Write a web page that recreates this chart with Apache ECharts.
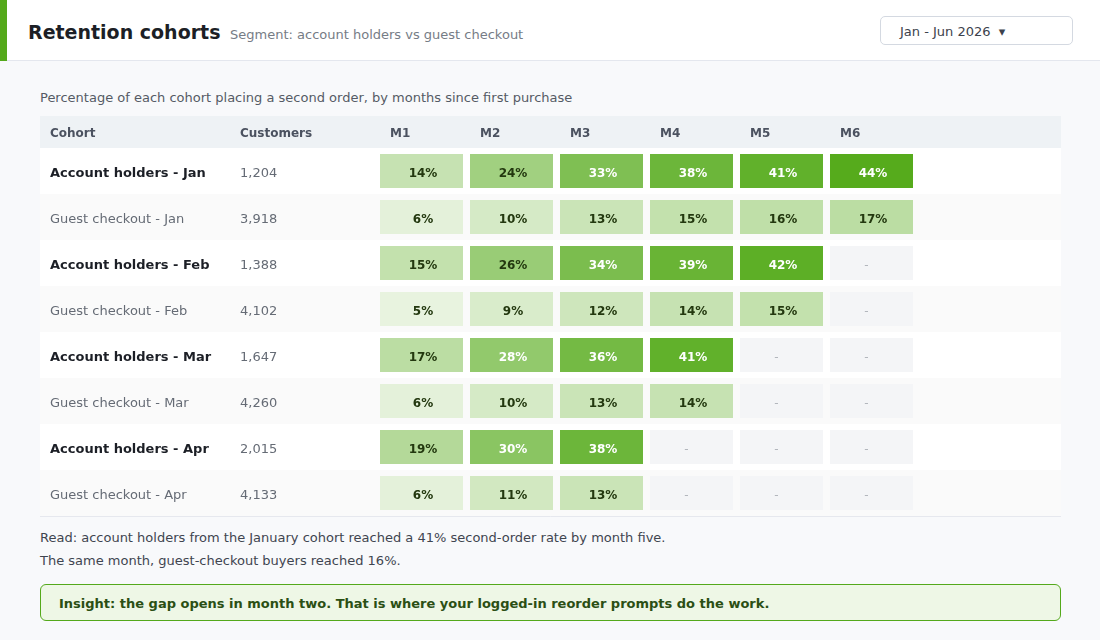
<!DOCTYPE html>
<html>
<head>
<meta charset="utf-8">
<script src="https://cdn.jsdelivr.net/npm/echarts@6/dist/echarts.min.js"></script>
<style>
  body { margin: 0; width: 1100px; height: 640px; background: #f8f9fb; font-family: 'DejaVu Sans', sans-serif; position: relative; overflow: hidden; }
  .top { position: absolute; left: 0; top: 0; width: 1100px; height: 60px; background: #fff; border-bottom: 1px solid #e4e7ee; }
  .accent { position: absolute; left: 0; top: 0; width: 7px; height: 61px; background: #54a91b; }
  .title { position: absolute; left: 28px; top: 21px; font-size: 19px; font-weight: bold; color: #1c1f26; }
  .sub { position: absolute; left: 230px; top: 27px; font-size: 13px; color: #767c86; }
  .picker { position: absolute; left: 880px; top: 16px; width: 172px; height: 27px; border: 1px solid #d4d9e1; border-radius: 5px; background: #fff; font-size: 13px; color: #3c424c; line-height: 30px; padding-left: 19px; overflow: hidden; }
  .caption { position: absolute; left: 40px; top: 90px; font-size: 13px; color: #555b65; }
  #chart { position: absolute; left: 40px; top: 116px; width: 1021px; height: 401px; }
  .note { position: absolute; left: 40px; font-size: 13px; color: #3f4550; }
  .insight { position: absolute; left: 40px; top: 584px; width: 1019px; height: 35px; border: 1px solid #54a91b; border-radius: 6px; background: #eef7e6; font-size: 13px; font-weight: bold; color: #2b4f14; line-height: 37px; overflow: hidden; }
  .insight span { padding-left: 18px; }
</style>
</head>
<body>
<div class="top"></div>
<div class="accent"></div>
<div class="title">Retention cohorts</div>
<div class="sub">Segment: account holders vs guest checkout</div>
<div class="picker">Jan - Jun 2026&nbsp;&nbsp;▾</div>
<div class="caption">Percentage of each cohort placing a second order, by months since first purchase</div>
<div id="chart"></div>
<div class="note" style="top:530px">Read: account holders from the January cohort reached a 41% second-order rate by month five.</div>
<div class="note" style="top:553px">The same month, guest-checkout buyers reached 16%.</div>
<div class="insight"><span>Insight: the gap opens in month two. That is where your logged-in reorder prompts do the work.</span></div>

<script>
// cohort rows (table order)
const cohorts = [
  'Account holders - Jan', 'Guest checkout - Jan',
  'Account holders - Feb', 'Guest checkout - Feb',
  'Account holders - Mar', 'Guest checkout - Mar',
  'Account holders - Apr', 'Guest checkout - Apr'
]
const customers = [1204, 3918, 1388, 4102, 1647, 4260, 2015, 4133]
const months = ['M1', 'M2', 'M3', 'M4', 'M5', 'M6']

// second-order rate (%) per cohort, null = not reached yet
const rates = [
  [14, 24, 33, 38, 41, 44],
  [6, 10, 13, 15, 16, 17],
  [15, 26, 34, 39, 42, null],
  [5, 9, 12, 14, 15, null],
  [17, 28, 36, 41, null, null],
  [6, 10, 13, 14, null, null],
  [19, 30, 38, null, null, null],
  [6, 11, 13, null, null, null]
]

const cellData = []
const emptyData = []
rates.forEach((row, r) => {
  row.forEach((v, c) => {
    if (v == null) emptyData.push([c, r])
    else cellData.push([c, r, v])
  })
})

const chart = echarts.init(document.getElementById('chart'))

function cellRect(api, fill, text, textStyle, dx) {
  const p = api.coord([api.value(0), api.value(1)])
  const s = api.size([1, 1])
  const w = s[0] - 7
  const h = s[1] - 12
  return {
    type: 'rect',
    shape: { x: p[0] - w / 2, y: p[1] - h / 2, width: w, height: h },
    style: { fill: fill },
    textContent: { style: Object.assign({ text: text }, textStyle) },
    textConfig: { position: 'inside', offset: [dx, 2.5] }
  }
}

chart.setOption({
  animation: false,
  textStyle: { fontFamily: 'DejaVu Sans' },
  graphic: [
    { type: 'rect', left: 0, top: 0, shape: { width: 1021, height: 32 }, style: { fill: '#eef2f5' }, z: -10 },
    { type: 'text', left: 10, top: 11.5, style: { text: 'Cohort', font: 'bold 12px DejaVu Sans', fill: '#4b5260' } },
    { type: 'text', left: 200, top: 11.5, style: { text: 'Customers', font: 'bold 12px DejaVu Sans', fill: '#4b5260' } }
  ],
  grid: [
    { left: 0, right: 0, top: 32, bottom: 1 },
    { left: 336.5, width: 540, top: 32, bottom: 1 }
  ],
  xAxis: [
    {
      gridIndex: 0, type: 'value', min: 0, max: 1,
      axisLine: { show: true, lineStyle: { color: '#e6e8ee' } },
      axisTick: { show: false }, axisLabel: { show: false }, splitLine: { show: false }
    },
    {
      gridIndex: 1, type: 'category', data: months, position: 'top',
      axisLine: { show: false }, axisTick: { show: false },
      axisLabel: {
        margin: 14.5, verticalAlign: 'middle',
        formatter: (v) => '{h|' + v + '}',
        rich: { h: { width: 63, align: 'left', fontSize: 12, fontWeight: 'bold', color: '#4b5260' } }
      }
    }
  ],
  yAxis: [
    {
      gridIndex: 0, type: 'category', data: cohorts, inverse: true,
      axisLine: { show: false }, axisTick: { show: false },
      splitLine: { show: false },
      splitArea: { show: true, areaStyle: { color: ['#ffffff', '#fafafa'] } },
      axisLabel: {
        inside: true, margin: 10, padding: [6, 0, 0, 0],
        formatter: (v, i) => '{' + (i % 2 ? 'g' : 'a') + '|' + v + '}{c|' + customers[i].toLocaleString('en-US') + '}',
        rich: {
          a: { width: 190, fontSize: 13, fontWeight: 'bold', color: '#1c1f26' },
          g: { width: 190, fontSize: 13, color: '#656b75' },
          c: { fontSize: 13, color: '#656b75' }
        }
      }
    },
    {
      gridIndex: 1, type: 'category', data: cohorts, inverse: true, show: false
    }
  ],
  visualMap: {
    type: 'continuous', show: false, seriesIndex: 0, dimension: 2,
    min: 5, max: 44,
    inRange: { color: ['#e8f3df', '#56ab1c'] }
  },
  series: [
    {
      type: 'custom', xAxisIndex: 1, yAxisIndex: 1,
      data: cellData,
      renderItem: (params, api) => {
        const v = api.value(2)
        return cellRect(api, api.visual('color'), v + '%', {
          font: 'bold 12px DejaVu Sans',
          fill: v >= 27 ? '#ffffff' : '#23380f'
        }, 1.5)
      }
    },
    {
      type: 'custom', xAxisIndex: 1, yAxisIndex: 1,
      data: emptyData,
      renderItem: (params, api) => cellRect(api, '#f4f5f7', '-', {
        font: '12px DejaVu Sans', fill: '#b3b7bd'
      }, -5)
    }
  ]
})
</script>
</body>
</html>
